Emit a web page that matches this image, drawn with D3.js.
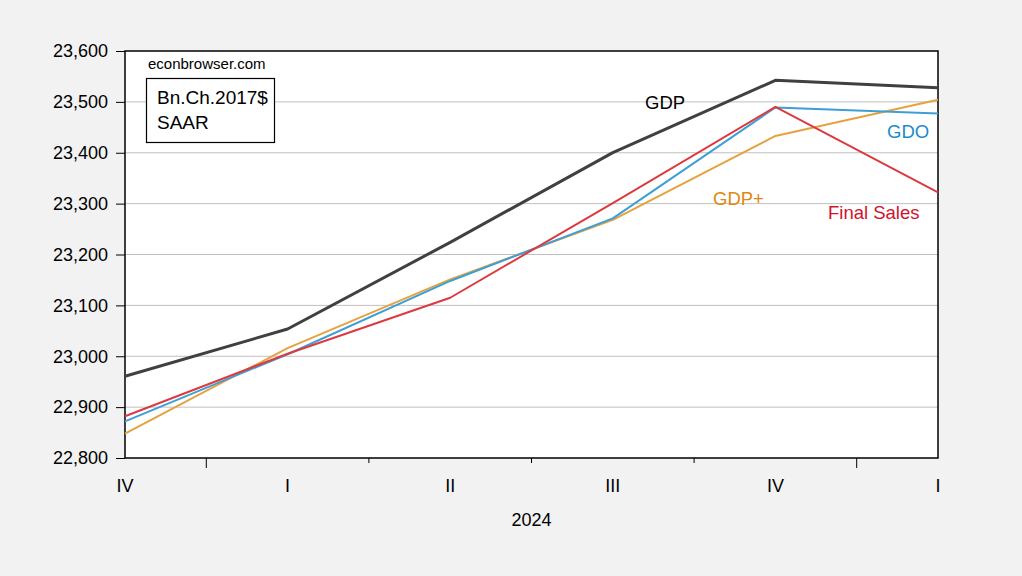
<!DOCTYPE html>
<html>
<head>
<meta charset="utf-8">
<script src="https://cdn.jsdelivr.net/npm/d3@7"></script>
<style>
  body { margin: 0; background: #f2f2f2; }
  svg { display: block; font-family: "Liberation Sans", Arial, sans-serif; }
</style>
</head>
<body>
<div id="chart"></div>
<script>
// quarters 2023Q4 .. 2025Q1
var quarters = ["IV", "I", "II", "III", "IV", "I"]
var yearLabel = "2024"
var gdp = [22960.6, 23053.5, 23223.9, 23400.3, 23542.3, 23528.0]
var gdo = [22872, 23004, 23148, 23271, 23489, 23477]
var finalSales = [22882, 23005, 23115, 23301, 23490, 23322]
var gdpPlus = [22848, 23016, 23151, 23268, 23433, 23504]
var yTicks = [22800, 22900, 23000, 23100, 23200, 23300, 23400, 23500, 23600]

var W = 1022, H = 576
var margin = {top: 51, right: 84, bottom: 118, left: 125},
    width = W - margin.left - margin.right,
    height = H - margin.top - margin.bottom

var svg = d3.select("#chart").append("svg")
    .attr("width", W)
    .attr("height", H)

svg.append("rect").attr("width", W).attr("height", H).attr("fill", "#f2f2f2")

var g = svg.append("g")
    .attr("transform", "translate(" + margin.left + "," + margin.top + ")")

var x = d3.scaleLinear().domain([0, quarters.length - 1]).range([0, width])
var y = d3.scaleLinear().domain([22800, 23600]).range([height, 0])

g.append("rect").attr("width", width).attr("height", height).attr("fill", "#fff")

// gridlines
g.selectAll(".grid").data(yTicks.slice(1, -1)).enter().append("line")
  .attr("x1", 0).attr("x2", width)
  .attr("y1", function(d) { return y(d) }).attr("y2", function(d) { return y(d) })
  .attr("stroke", "#c0c0c0").attr("stroke-width", 1)

// y axis
var yAxis = d3.axisLeft(y).tickValues(yTicks).tickFormat(d3.format(",")).tickSize(9).tickPadding(8)
var ya = g.append("g").call(yAxis)
ya.select(".domain").remove()
ya.selectAll("text").attr("font-size", 18).attr("fill", "#000").attr("font-family", "Liberation Sans, Arial, sans-serif")
ya.selectAll("line").attr("stroke", "#000")

// x ticks between quarters; long at year boundaries
var between = d3.range(quarters.length - 1).map(function(i) { return i + 0.5 })
g.selectAll(".xt").data(between).enter().append("line")
  .attr("x1", function(d) { return x(d) }).attr("x2", function(d) { return x(d) })
  .attr("y1", height)
  .attr("y2", function(d, i) { return height + (quarters[i] == "IV" ? 10 : 5) })
  .attr("stroke", "#000")

g.selectAll(".xl").data(quarters).enter().append("text")
  .attr("x", function(d, i) { return x(i) })
  .attr("y", height + 34)
  .attr("text-anchor", "middle")
  .attr("font-size", 18)
  .text(function(d) { return d })

g.append("text")
  .attr("x", x(2.5)).attr("y", height + 68)
  .attr("text-anchor", "middle").attr("font-size", 18)
  .text(yearLabel)

// frame
g.append("rect").attr("width", width).attr("height", height)
  .attr("fill", "none").attr("stroke", "#000").attr("stroke-width", 1.5)

var line = d3.line()
  .x(function(d, i) { return x(i) })
  .y(function(d) { return y(d) })

var series = [
  {name: "GDP+", values: gdpPlus, color: "#e6a23f", w: 2},
  {name: "GDO", values: gdo, color: "#3d9fd6", w: 2},
  {name: "Final Sales", values: finalSales, color: "#dc3a3f", w: 2},
  {name: "GDP", values: gdp, color: "#404040", w: 3}
]

g.selectAll(".series").data(series).enter().append("path")
  .attr("d", function(d) { return line(d.values) })
  .attr("fill", "none")
  .attr("stroke", function(d) { return d.color })
  .attr("stroke-width", function(d) { return d.w })
  .attr("stroke-linejoin", "round")

// series labels
var labels = [
  {text: "GDP", x: 645, y: 109, color: "#000"},
  {text: "GDO", x: 887, y: 138, color: "#1b8bcb"},
  {text: "GDP+", x: 713, y: 205, color: "#e0880f"},
  {text: "Final Sales", x: 828, y: 219, color: "#d0142c"}
]
svg.selectAll(".lab").data(labels).enter().append("text")
  .attr("x", function(d) { return d.x })
  .attr("y", function(d) { return d.y })
  .attr("font-size", 18.5)
  .attr("fill", function(d) { return d.color })
  .text(function(d) { return d.text })

// source and units box
svg.append("text").attr("x", 148).attr("y", 69).attr("font-size", 15).text("econbrowser.com")
svg.append("rect").attr("x", 146.5).attr("y", 78.5).attr("width", 128).attr("height", 64)
  .attr("fill", "#fff").attr("stroke", "#000").attr("stroke-width", 1.2)
svg.append("text").attr("x", 157).attr("y", 104).attr("font-size", 19).text("Bn.Ch.2017$")
svg.append("text").attr("x", 157).attr("y", 129).attr("font-size", 19).text("SAAR")
</script>
</body>
</html>
